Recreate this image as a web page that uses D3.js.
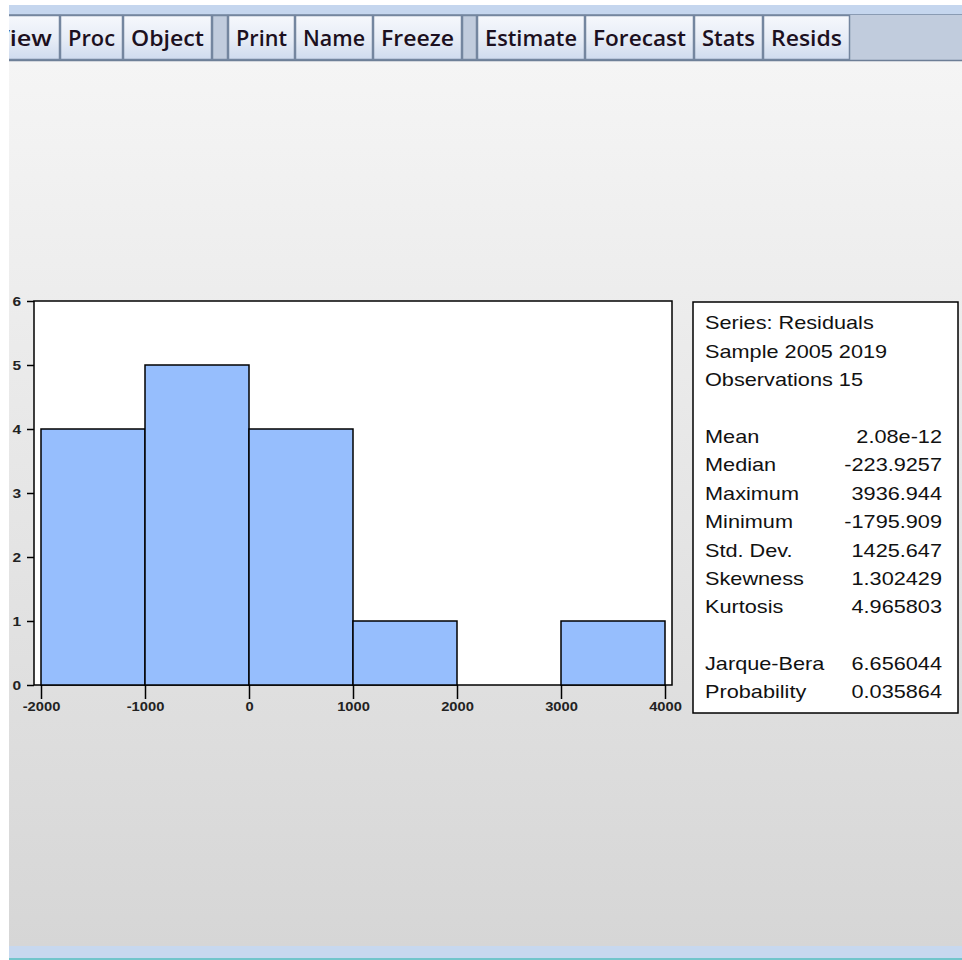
<!DOCTYPE html>
<html>
<head>
<meta charset="utf-8">
<script src="https://cdn.jsdelivr.net/npm/d3@7"></script>
<style>
  body { margin: 0; background: #fff; }
  svg { display: block; }
</style>
</head>
<body>
<script>
// histogram of the residuals (bin edges and counts)
const binEdges = [-2000, -1000, 0, 1000, 2000, 3000, 4000]
const binCounts = [4, 5, 4, 1, 0, 1]
const xTicks = [-2000, -1000, 0, 1000, 2000, 3000, 4000]
const yTicks = [0, 1, 2, 3, 4, 5, 6]

// descriptive statistics box
const statLabels = ["Series: Residuals", "Sample 2005 2019", "Observations 15", "",
    "Mean", "Median", "Maximum", "Minimum", "Std. Dev.", "Skewness", "Kurtosis", "",
    "Jarque-Bera", "Probability"]
const statValues = ["", "", "", "",
    "2.08e-12", "-223.9257", "3936.944", "-1795.909", "1425.647", "1.302429", "4.965803", "",
    "6.656044", "0.035864"]

// toolbar of the window (null = separator)
const buttons = ["View", "Proc", "Object", null, "Print", "Name", "Freeze", null,
    "Estimate", "Forecast", "Stats", "Resids"]
const buttonEdges = [-14, 60, 123, 212, 228, 295, 373, 462, 477, 585, 694, 763, 850]

var width = 962,
    height = 960;

// the screenshot is a bit stretched horizontally
const stretch = 1.24

var svg = d3.select("body")
    .append("svg")
    .attr("width", width)
    .attr("height", height);

var defs = svg.append("defs")

var bg = defs.append("linearGradient").attr("id", "bg")
    .attr("x1", 0).attr("y1", 0).attr("x2", 0).attr("y2", 1)
bg.append("stop").attr("offset", "0%").attr("stop-color", "#f5f5f5")
bg.append("stop").attr("offset", "100%").attr("stop-color", "#d6d6d6")

var btn = defs.append("linearGradient").attr("id", "btn")
    .attr("x1", 0).attr("y1", 0).attr("x2", 0).attr("y2", 1)
btn.append("stop").attr("offset", "0%").attr("stop-color", "#f6f8fc")
btn.append("stop").attr("offset", "55%").attr("stop-color", "#e6ecf6")
btn.append("stop").attr("offset", "100%").attr("stop-color", "#cfdbee")

// window background
svg.append("rect").attr("x", 9).attr("y", 61).attr("width", width - 9).attr("height", 885)
    .attr("fill", "url(#bg)")
svg.append("rect").attr("x", 9).attr("y", 946).attr("width", width - 9).attr("height", 12)
    .attr("fill", "#c7d8ef")
svg.append("rect").attr("x", 9).attr("y", 958).attr("width", width - 9).attr("height", 2)
    .attr("fill", "#72c5cb")

// toolbar
var bar = svg.append("g")
bar.append("rect").attr("x", 9).attr("y", 5).attr("width", width - 9).attr("height", 9)
    .attr("fill", "#c5d6ee")
bar.append("rect").attr("x", 9).attr("y", 14).attr("width", width - 9).attr("height", 47)
    .attr("fill", "#c1ccdd")
bar.append("line").attr("x1", 9).attr("x2", width).attr("y1", 14.5).attr("y2", 14.5)
    .attr("stroke", "#8a9bb3")
bar.append("line").attr("x1", 9).attr("x2", width).attr("y1", 60.5).attr("y2", 60.5)
    .attr("stroke", "#6d7e96").attr("stroke-width", 1.5)

buttons.forEach((label, i) => {
    const x0 = buttonEdges[i], x1 = buttonEdges[i + 1]
    bar.append("rect")
        .attr("x", x0 + 0.5).attr("y", 15.5)
        .attr("width", x1 - x0 - 1).attr("height", 44)
        .attr("fill", label ? "url(#btn)" : "#c1ccdd")
        .attr("stroke", "#74869f")
        .attr("stroke-width", 1.5)
    if (label) {
        bar.append("text")
            .attr("x", (x0 + x1) / 2)
            .attr("y", 46)
            .attr("text-anchor", "middle")
            .attr("font-family", "'Open Sans', 'Noto Sans', sans-serif")
            .attr("font-weight", 600)
            .attr("font-size", 22)
            .attr("fill", "#1c1020")
            .attr("textLength", x1 - x0 - 16)
            .attr("lengthAdjust", "spacingAndGlyphs")
            .text(label)
    }
})
// white margin on the left
svg.append("rect").attr("x", 0).attr("y", 0).attr("width", 9).attr("height", height).attr("fill", "#fff")

// histogram
var x = d3.scaleLinear().domain([-2000, 4000]).range([41, 665])
var y = d3.scaleLinear().domain([0, 6]).range([685, 301])

var g = svg.append("g")

g.append("rect")
    .attr("x", 34).attr("y", y(6))
    .attr("width", 672 - 34).attr("height", y(0) - y(6))
    .attr("fill", "#fff")
    .attr("stroke", "#000")
    .attr("stroke-width", 1.5)

var bins = binCounts.map((c, i) => ({ x0: binEdges[i], x1: binEdges[i + 1], count: c }))

g.selectAll(".bar")
    .data(bins.filter(d => d.count > 0))
    .join("rect")
    .attr("class", "bar")
    .attr("x", d => x(d.x0))
    .attr("y", d => y(d.count))
    .attr("width", d => x(d.x1) - x(d.x0))
    .attr("height", d => y(0) - y(d.count))
    .attr("fill", "#96befd")
    .attr("stroke", "#000")
    .attr("stroke-width", 1.5)

// plain labels, ascii minus and no thousands separator
const plain = d => String(d)

var xAxis = g.append("g")
    .attr("transform", `translate(0,${y(0)})`)
    .call(d3.axisBottom(x).tickValues(xTicks).tickFormat(plain).tickSize(14).tickPadding(3))
var yAxis = g.append("g")
    .attr("transform", "translate(34,0)")
    .call(d3.axisLeft(y).tickValues(yTicks).tickFormat(plain).tickSize(7).tickPadding(7))

;[xAxis, yAxis].forEach(ax => {
    ax.select(".domain").remove()
    ax.selectAll(".tick line").attr("stroke", "#000").attr("stroke-width", 1.5)
    ax.selectAll(".tick text")
        .attr("font-family", "'Liberation Sans', Arial, sans-serif")
        .attr("font-size", 12.5)
        .attr("font-weight", "bold")
        .attr("fill", "#222")
})
xAxis.selectAll(".tick text").attr("transform", `scale(${stretch * 0.95},1)`)
yAxis.selectAll(".tick text")
    .attr("x", -13 / stretch)
    .attr("transform", `scale(${stretch},1)`)

// statistics box
svg.append("rect")
    .attr("x", 693).attr("y", 302)
    .attr("width", 958 - 693).attr("height", 713 - 302)
    .attr("fill", "#fff")
    .attr("stroke", "#000")
    .attr("stroke-width", 1.5)

var stats = svg.append("g")
    .attr("transform", `translate(705,0) scale(${stretch},1)`)
    .attr("font-family", "'Liberation Sans', Arial, sans-serif")
    .attr("font-size", 17.5)
    .attr("fill", "#111")

const rowY = i => 329.5 + i * 28.38

stats.selectAll(".lab")
    .data(statLabels)
    .join("text")
    .attr("class", "lab")
    .attr("x", 0)
    .attr("y", (d, i) => rowY(i))
    .text(d => d)

stats.selectAll(".val")
    .data(statValues)
    .join("text")
    .attr("class", "val")
    .attr("x", (942 - 705) / stretch)
    .attr("y", (d, i) => rowY(i))
    .attr("text-anchor", "end")
    .text(d => d)
</script>
</body>
</html>
